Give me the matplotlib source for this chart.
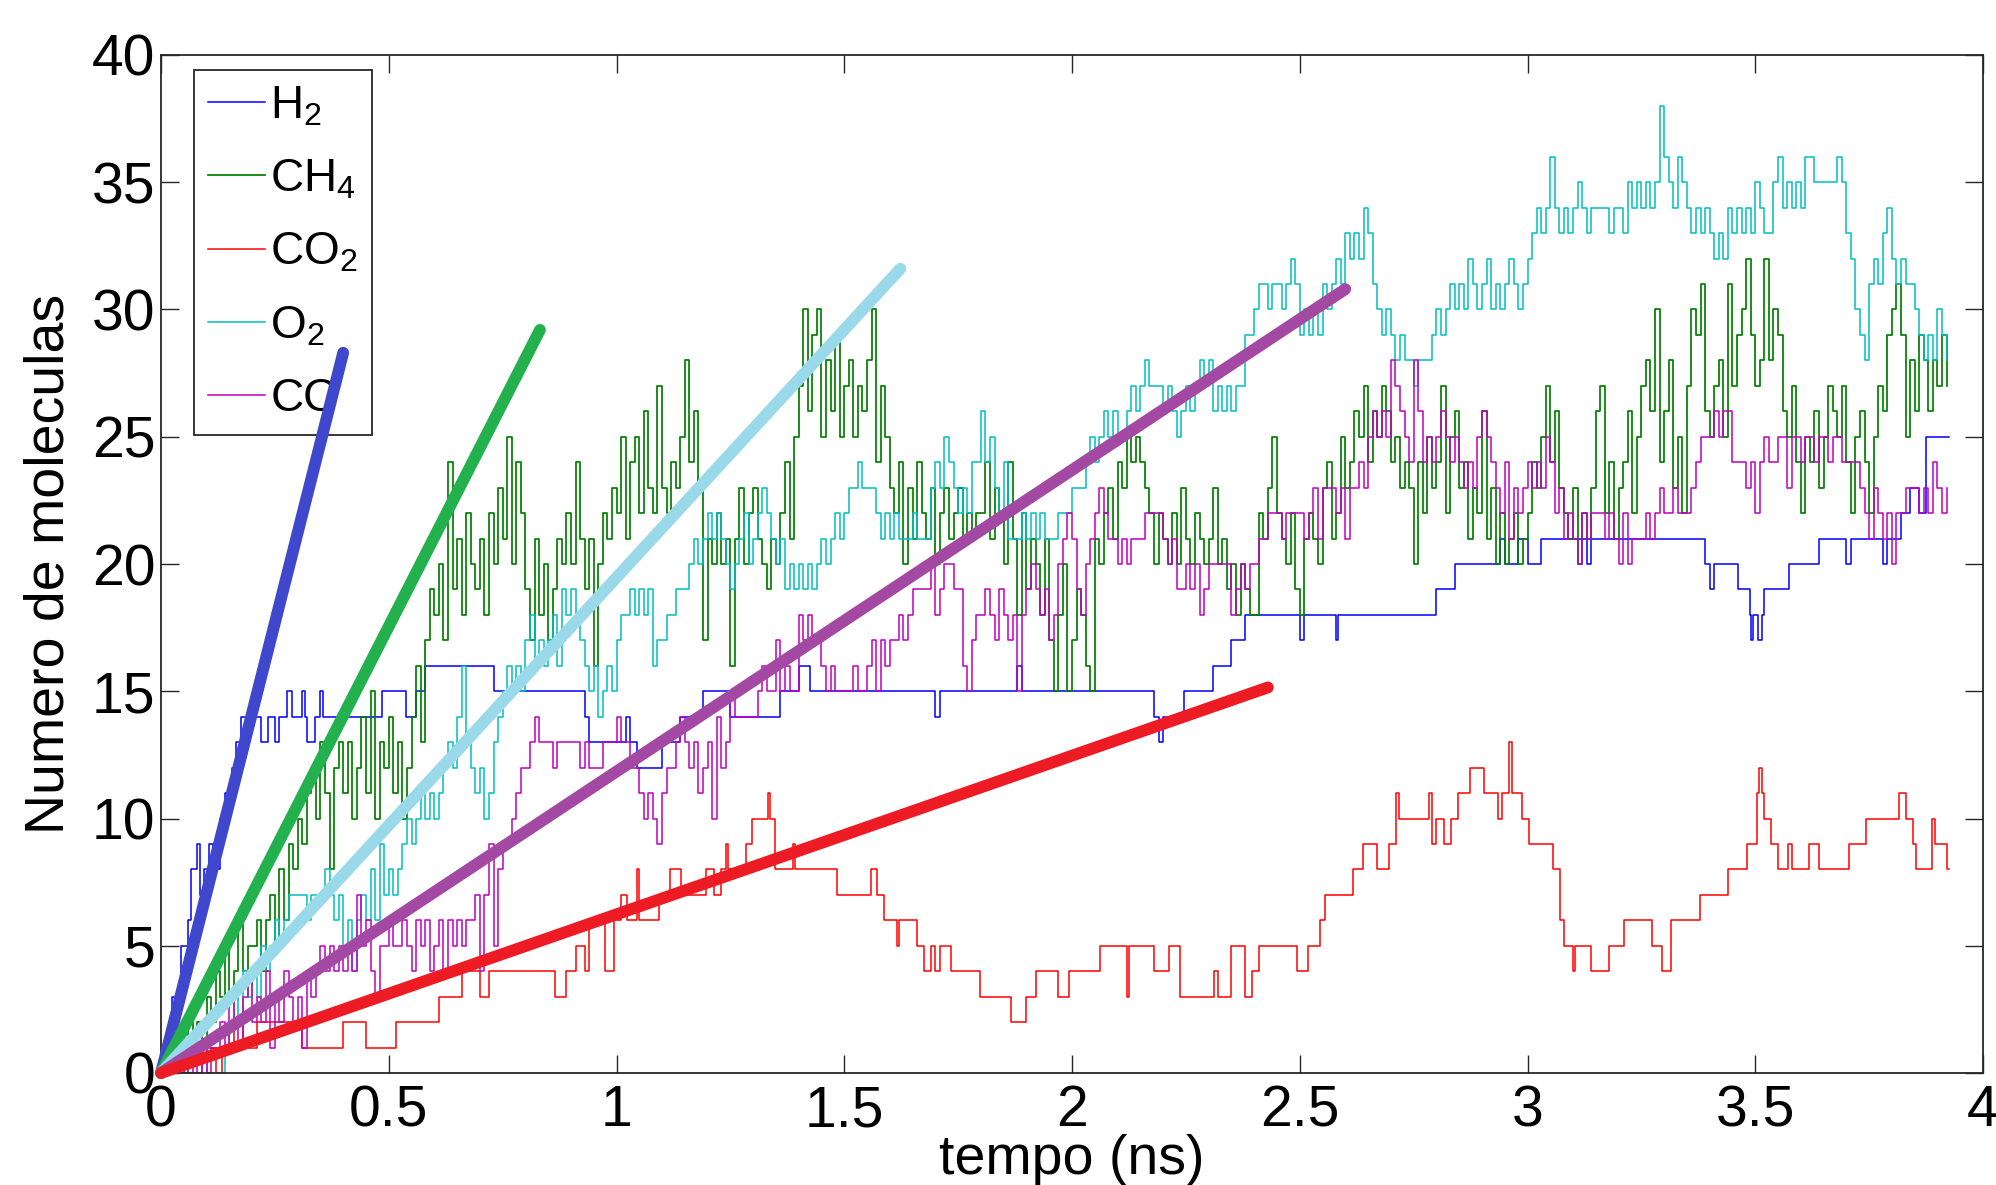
import numpy as np
import matplotlib
matplotlib.use('Agg')
import matplotlib.pyplot as plt

plt.rcParams['font.family'] = ['Liberation Sans', 'DejaVu Sans']
plt.rcParams['mathtext.fontset'] = 'custom'
plt.rcParams['mathtext.rm'] = 'Liberation Sans'
plt.rcParams['mathtext.it'] = 'Liberation Sans:italic'
plt.rcParams['mathtext.default'] = 'regular'

# ---------------- data ----------------
DT = 0.01  # ns, sampling step of the noisy series

CH4 = [0,0,0,1,0,1,2,1,2,1, 3,2,4,3,5,3,4,6,4,5,
       5,6,4,6,7,5,8,6,9,8, 10,9,11,12,10,13,11,8,12,13,
       11,13,10,12,14,11,15,10,13,12, 14,11,13,10,12,14,16,13,17,19,
       18,20,17,24,19,21,18,22,20,19, 21,18,22,20,23,21,25,20,24,22,
       19,17,21,18,20,17,19,21,20,22, 20,24,21,19,21,16,20,22,21,23,
       22,25,21,24,25,22,26,23,22,27, 23,22,24,23,25,28,24,26,23,17,
       21,20,22,20,21,16,21,23,20,22, 23,21,20,19,21,20,22,24,21,25,
       27,30,26,29,30,25,28,26,29,25, 27,28,25,27,26,28,30,24,27,25,
       23,22,24,20,23,21,24,22,21,23, 20,22,23,21,22,23,21,22,21,22,
       22,24,21,23,22,20,24,21,18,22, 19,21,20,18,21,17,15,18,20,15,
       17,19,18,16,15,21,20,22,23,21, 24,23,25,24,25,24,23,22,20,22,
       21,20,22,20,23,21,20,22,21,20, 21,23,20,21,19,20,18,20,19,18,
       18,22,21,23,25,22,21,20,22,19, 18,21,22,21,20,23,24,21,22,25,
       23,24,26,25,27,24,26,25,27,26, 24,25,23,24,23,20,24,22,25,23,
       24,27,22,25,26,23,24,21,23,22, 26,21,23,20,22,20,21,22,20,21,
       22,24,23,25,27,24,26,23,22,21, 23,20,22,21,23,26,27,22,24,21,
       23,24,26,22,25,27,28,26,30,24, 26,28,23,25,22,27,30,29,31,26,
       25,27,28,25,31,27,29,30,32,29, 27,28,32,28,30,29,26,25,27,24,
       22,25,24,26,23,25,27,26,25,27, 24,22,25,26,24,22,25,27,26,29,
       30,31,29,25,28,26,29,28,26,28,27,29,27]

O2 = [0,0,0,0,0,1,0,0,0,1, 0,0,0,0,1,2,3,2,4,3,
      4,3,5,4,5,6,5,6,7,7, 7,7,6,7,7,7,8,7,6,7,
      5,6,4,6,7,6,8,6,9,7, 8,7,8,9,10,9,10,11,10,11,
      10,11,12,13,12,14,16,13,12,11, 12,10,11,13,14,15,16,15,16,15,
      17,18,16,17,16,17,18,16,19,18, 19,18,17,16,15,16,14,15,16,15,
      17,18,18,19,18,19,18,19,16,17, 17,18,18,19,19,19,20,21,20,21,
      22,21,22,21,20,19,20,21,22,20, 21,22,23,22,21,20,21,19,20,19,
      20,19,20,19,20,21,20,21,22,21, 22,23,23,24,23,23,23,22,21,22,
      21,22,21,21,21,22,21,21,21,23, 24,23,25,24,23,22,23,22,24,24,
      26,24,25,23,22,24,21,21,21,22, 21,22,21,22,21,21,21,22,22,22,
      23,23,23,24,25,24,25,26,25,26, 25,25,26,27,26,27,28,27,27,27,
      26,27,26,25,26,27,26,27,28,27, 28,26,27,26,27,26,27,27,29,29,
      30,31,31,30,31,31,30,31,32,31, 29,30,29,30,29,31,30,31,32,31,
      33,32,33,32,34,33,31,30,29,30, 29,28,29,28,28,27,28,28,28,29,
      30,29,30,31,30,31,30,32,31,30, 31,32,30,31,30,31,32,31,30,31,
      32,33,34,33,34,36,34,33,34,33, 34,35,34,33,34,34,34,34,33,34,
      34,33,35,34,35,34,35,34,35,38, 36,35,34,36,35,34,33,34,33,34,
      33,32,33,32,34,33,34,33,34,33, 35,34,33,33,35,36,34,35,34,35,
      34,36,36,35,35,35,35,35,36,35, 33,32,30,29,28,31,32,31,33,34,
      32,31,32,31,31,30,29,28,29,28,30,29,28]

CO = [0,0,1,0,0,1,0,1,0,1, 0,1,1,2,1,3,2,1,3,4,
      2,3,2,4,1,3,2,4,3,2, 3,1,4,3,4,5,4,5,4,5,
      4,5,4,7,5,6,4,3,5,5, 6,5,5,6,5,4,6,5,6,4,
      5,6,4,6,5,6,5,6,6,7, 4,7,9,5,8,9,9,10,11,12,
      12,13,14,13,13,13,12,13,13,13, 13,13,12,13,12,12,12,13,13,13,
      14,13,13,12,12,11,10,11,10,9, 11,12,12,13,14,13,12,13,11,12,
      13,10,14,12,13,15,14,14,14,14, 14,15,16,15,15,17,15,16,15,15,
      18,17,18,17,17,16,15,16,15,15, 15,15,16,15,15,16,17,15,17,16,
      17,17,18,17,18,19,19,19,19,20, 18,19,20,20,19,19,16,15,17,18,
      18,19,18,17,19,18,17,18,15,18, 19,20,19,18,19,17,18,20,21,22,
      21,19,18,20,21,22,23,22,21,21, 20,21,20,21,21,21,22,22,22,22,
      21,20,21,19,19,20,19,20,18,19, 20,20,20,20,20,18,19,20,19,20,
      20,21,21,22,22,22,21,22,22,22, 22,21,22,23,21,23,23,23,22,23,
      21,23,23,24,23,25,26,25,26,25, 28,27,26,25,24,28,26,24,25,24,
      25,26,25,24,25,24,23,24,23,25, 26,25,24,23,22,24,21,23,22,23,
      24,23,24,23,25,24,22,23,21,22, 21,20,22,21,22,22,22,21,22,21,
      20,22,20,21,21,21,22,21,22,23, 22,22,23,22,22,22,23,24,25,25,
      25,26,25,26,26,24,24,24,23,24, 22,24,25,24,24,25,25,23,25,25,
      24,25,25,24,25,25,24,25,25,24, 24,24,24,23,22,21,23,22,21,22,
      20,22,22,23,23,23,22,23,22,24,23,22,23]

# step series: (time ns, count) breakpoints
H2 = [(0,0),(0.01,1),(0.025,3),(0.045,5),(0.06,6),(0.065,8),(0.08,9),(0.085,7),(0.095,8),
      (0.105,9),(0.115,8),(0.13,10),(0.14,11),(0.155,12),(0.165,13),(0.175,14),(0.22,13),
      (0.235,14),(0.25,13),(0.26,14),(0.276,15),(0.287,14),(0.31,15),(0.316,14),(0.32,13),
      (0.338,14),(0.35,15),(0.355,14),(0.485,15),(0.537,14),(0.56,15),(0.58,16),(0.73,15),
      (0.93,14),(0.94,13),(1.02,14),(1.03,13),(1.045,12),(1.10,13),(1.14,14),(1.19,15),
      (1.25,14),(1.36,15),(1.40,16),(1.425,15),(1.70,14),(1.71,15),(1.88,16),(1.89,15),
      (2.18,14),(2.19,13),(2.20,14),(2.245,15),(2.31,16),(2.35,17),(2.38,18),(2.50,17),
      (2.51,18),(2.58,17),(2.585,18),(2.80,19),(2.84,20),(2.94,21),(2.95,20),(2.98,21),
      (3.00,20),(3.03,21),(3.13,20),(3.14,21),(3.39,20),(3.40,19),(3.41,20),(3.463,19),
      (3.489,18),(3.49,17),(3.495,18),(3.505,17),(3.515,18),(3.52,19),(3.573,20),(3.64,21),
      (3.70,20),(3.71,21),(3.78,20),(3.79,21),(3.82,22),(3.84,23),(3.86,22),(3.875,25),
      (3.925,25)]

CO2 = [(0,0),(0.09,1),(0.12,0),(0.135,1),(0.16,2),(0.18,1),(0.21,2),(0.31,1),(0.40,2),
       (0.45,1),(0.515,2),(0.61,3),(0.66,4),(0.70,3),(0.72,4),(0.865,3),(0.89,4),(0.91,5),
       (0.93,4),(0.94,6),(0.975,4),(0.995,6),(1.01,7),(1.024,6),(1.044,8),(1.05,6),
       (1.093,7),(1.117,8),(1.142,7),(1.196,8),(1.215,7),(1.23,8),(1.24,9),(1.245,8),
       (1.284,9),(1.298,10),(1.333,11),(1.338,10),(1.347,8),(1.387,9),(1.391,8),(1.484,7),
       (1.558,8),(1.572,7),(1.587,6),(1.615,5),(1.62,6),(1.66,5),(1.675,4),(1.69,5),
       (1.70,4),(1.71,5),(1.734,4),(1.797,3),(1.866,2),(1.90,3),(1.92,4),(1.969,3),
       (1.993,4),(2.062,5),(2.12,3),(2.125,5),(2.179,4),(2.213,5),(2.238,3),(2.311,4),
       (2.321,3),(2.35,5),(2.38,3),(2.395,4),(2.41,5),(2.493,4),(2.519,5),(2.545,6),
       (2.555,7),(2.618,8),(2.639,9),(2.67,8),(2.696,9),(2.711,11),(2.717,10),(2.784,11),
       (2.79,9),(2.80,10),(2.816,9),(2.831,10),(2.847,11),(2.873,12),(2.904,11),(2.935,10),
       (2.945,11),(2.959,13),(2.967,11),(2.988,10),(3.003,9),(3.055,8),(3.071,6),(3.081,5),
       (3.10,4),(3.105,5),(3.139,4),(3.18,5),(3.211,6),(3.274,5),(3.295,4),(3.316,6),
       (3.378,7),(3.441,8),(3.482,9),(3.503,11),(3.508,12),(3.515,11),(3.519,10),(3.534,9),
       (3.55,8),(3.571,9),(3.581,8),(3.618,9),(3.639,8),(3.706,9),(3.743,10),(3.816,11),
       (3.831,10),(3.847,9),(3.852,8),(3.889,10),(3.894,9),(3.92,8),(3.925,8)]

# thick fitted lines drawn from the origin: end time, end value
FIT_NAMES = ['H2', 'CH4', 'O2', 'CO', 'CO2']
FIT_T_END = [0.40, 0.832, 1.623, 2.60, 2.43]
FIT_V_END = [28.3, 29.2, 31.6, 30.8, 15.15]

LABELS = ['H$_2$', 'CH$_4$', 'CO$_2$', 'O$_2$', 'CO']
X_TICKS = [0, 0.5, 1, 1.5, 2, 2.5, 3, 3.5, 4]
X_TICKLABELS = ['0', '0.5', '1', '1.5', '2', '2.5', '3', '3.5', '4']
Y_TICKS = [0, 5, 10, 15, 20, 25, 30, 35, 40]

# ---------------- styling ----------------
C_THIN = {'H2': '#0000ff', 'CH4': '#008000', 'CO2': '#ff0000', 'O2': '#00bfbf', 'CO': '#bf00bf'}
C_FIT = {'H2': '#3f48cc', 'CH4': '#22b14c', 'O2': '#99d9ea', 'CO': '#a349a4', 'CO2': '#ed1c24'}
AX_COL = '#262626'

W, H = 1996, 1185
fig = plt.figure(figsize=(W / 100, H / 100), dpi=100)
ax = fig.add_axes([161 / W, 112 / H, 1822 / W, 1018 / H])

h2_t, h2_v = zip(*H2)
co2_t, co2_v = zip(*CO2)
t_ch4 = np.arange(len(CH4)) * DT
t_o2 = np.arange(len(O2)) * DT
t_co = np.arange(len(CO)) * DT

lw = 1.1
ax.plot(h2_t, h2_v, drawstyle='steps-post', color=C_THIN['H2'], lw=lw, label=LABELS[0])
ax.plot(t_ch4, CH4, drawstyle='steps-post', color=C_THIN['CH4'], lw=1.25, label=LABELS[1])
ax.plot(co2_t, co2_v, drawstyle='steps-post', color=C_THIN['CO2'], lw=lw, label=LABELS[2])
ax.plot(t_o2, O2, drawstyle='steps-post', color=C_THIN['O2'], lw=lw, label=LABELS[3])
ax.plot(t_co, CO, drawstyle='steps-post', color=C_THIN['CO'], lw=lw, label=LABELS[4])

for name, te, ve in zip(FIT_NAMES, FIT_T_END, FIT_V_END):
    ax.plot([0, te], [0, ve], color=C_FIT[name], lw=8.5, solid_capstyle='round',
            zorder=10, clip_on=False)

ax.set_xlim(0, 4)
ax.set_ylim(0, 40)
ax.set_xticks(X_TICKS)
ax.set_xticklabels(X_TICKLABELS)
ax.set_yticks(Y_TICKS)
ax.tick_params(direction='in', length=13, width=1.0, top=True, right=True,
               labelsize=41, colors=AX_COL, labelcolor='black')
ax.tick_params(axis='x', pad=8)
ax.tick_params(axis='y', pad=4)
for s in ax.spines.values():
    s.set_linewidth(1.3)
    s.set_color(AX_COL)

ax.set_xlabel('tempo (ns)', fontsize=40)
ax.set_ylabel('Numero de moleculas', fontsize=40)
ax.xaxis.set_label_coords(0.5, -0.06)
ax.yaxis.set_label_coords(-0.047, 0.5)

leg = ax.legend(loc='upper left', bbox_to_anchor=(0.018, 0.985), borderaxespad=0,
                fontsize=33, frameon=True, fancybox=False, edgecolor=AX_COL,
                framealpha=1, handlelength=1.25, handletextpad=0.12, labelspacing=0.64,
                borderpad=0.3)
leg.get_frame().set_linewidth(1.3)
leg.set_zorder(5)

fig.savefig('out.png', dpi=100, facecolor='white')
